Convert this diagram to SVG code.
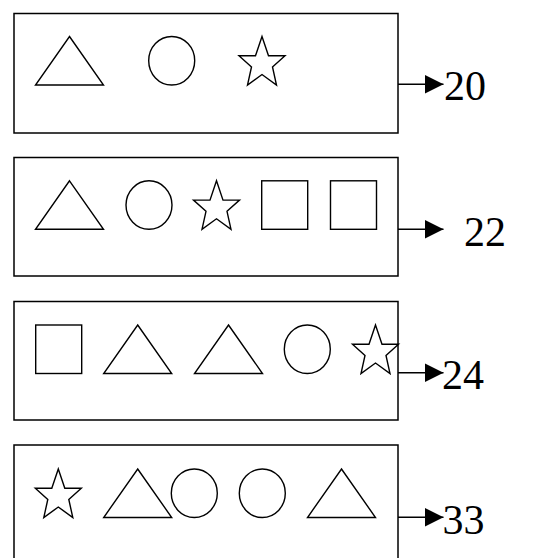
<svg xmlns="http://www.w3.org/2000/svg" width="554" height="558" viewBox="0 0 554 558">
<style>
.box{fill:#fff;stroke:#000;stroke-width:1.5}
.sh{fill:none;stroke:#000;stroke-width:1.4;stroke-linejoin:miter}
.conn{stroke:#000;stroke-width:1.4;fill:none}
text{font-family:'Liberation Serif','DejaVu Serif',serif;font-size:42px;fill:#000}
</style>
<defs>
<path id="tri" class="sh" d="M0,0 L34,48.5 L-34,48.5 Z"/>
<path id="star" class="sh" d="M0,0 L6.5,19.3 L23,19.3 L10.5,30.5 L14.5,48.5 L0,38 L-14.5,48.5 L-10.5,30.5 L-23,19.3 L-6.5,19.3 Z"/>
<rect id="sq" class="sh" x="0" y="0" width="46" height="48.5"/>
<ellipse id="circ" class="sh" cx="0" cy="24.25" rx="23" ry="24.25"/>
<marker id="ah" markerUnits="userSpaceOnUse" markerWidth="20" markerHeight="20" refX="19" refY="9.5" orient="auto">
<path d="M0,0 L19,9.5 L0,19 Z" fill="#000"/>
</marker>
</defs>
<g id="node1">
<rect class="box" x="14" y="13.5" width="384" height="119.5"/>
<use href="#tri" x="69.5" y="36.5"/>
<use href="#circ" x="171.7" y="36.5"/>
<use href="#star" x="262" y="36.5"/>
<text x="444" y="100">20</text>
</g>
<g id="node2">
<rect class="box" x="14" y="157.5" width="384" height="118.5"/>
<use href="#tri" x="69.5" y="180.8"/>
<use href="#circ" x="149" y="180.8"/>
<use href="#star" x="216.5" y="180.8"/>
<use href="#sq" x="261.7" y="180.8"/>
<use href="#sq" x="330.5" y="180.8"/>
<text x="464" y="246">22</text>
</g>
<g id="node3">
<rect class="box" x="14" y="301.5" width="384" height="118.5"/>
<use href="#sq" x="35.7" y="325"/>
<use href="#tri" x="137.7" y="325"/>
<use href="#tri" x="228.5" y="325"/>
<use href="#circ" x="307.3" y="325"/>
<use href="#star" x="375.5" y="325"/>
<text x="442" y="388.5">24</text>
</g>
<g id="node4">
<rect class="box" x="14" y="445" width="384" height="120"/>
<use href="#star" x="58.3" y="469"/>
<use href="#tri" x="137.7" y="469"/>
<use href="#circ" x="194.3" y="469"/>
<use href="#circ" x="262.3" y="469"/>
<use href="#tri" x="341.5" y="469"/>
<text x="442.5" y="533.5">33</text>
</g>
<g id="connectors">
<line class="conn" x1="398" y1="84.3" x2="443.5" y2="84.3" marker-end="url(#ah)"/>
<line class="conn" x1="398" y1="229.3" x2="443.5" y2="229.3" marker-end="url(#ah)"/>
<line class="conn" x1="398" y1="372.7" x2="443.5" y2="372.7" marker-end="url(#ah)"/>
<line class="conn" x1="398" y1="517.3" x2="443.5" y2="517.3" marker-end="url(#ah)"/>
</g>
</svg>
